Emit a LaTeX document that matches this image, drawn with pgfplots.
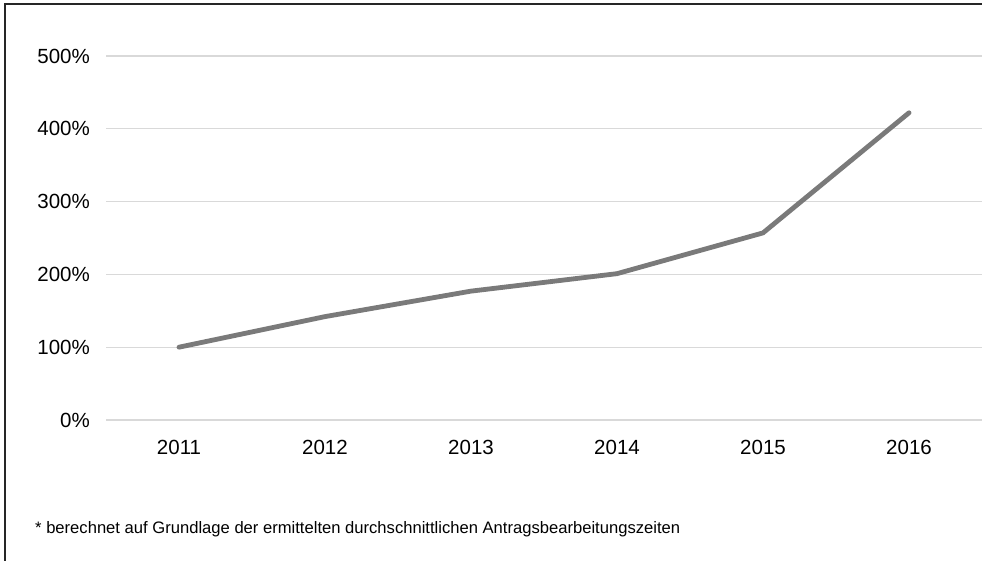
\documentclass[border=0pt]{standalone}
\usepackage{pgfplots}
\pgfplotsset{compat=1.18}
\usepackage{fontspec}
\setmainfont{Liberation Sans}
\definecolor{linegray}{HTML}{7A7A7A}
\definecolor{gridgray}{HTML}{D9D9D9}
\begin{document}
\begin{tikzpicture}[x=1bp,y=1bp]
\useasboundingbox (0,0) rectangle (982,561);
\draw[line width=1.2bp, black!85] (5,0) -- (5,557) -- (982,557);
\begin{axis}[
  at={(106bp,141bp)}, anchor=south west,
  scale only axis, width=876bp, height=364bp,
  xmin=-0.5, xmax=5.5, ymin=0, ymax=500,
  axis line style={draw=none},
  major tick length=0pt,
  xtick={0,1,2,3,4,5},
  xticklabels={2011,2012,2013,2014,2015,2016},
  ytick={0,100,200,300,400,500},
  yticklabel={\pgfmathprintnumber{\tick}\%},
  ymajorgrids, grid style={gridgray, line width=1.3bp},
  /pgf/number format/assume math mode=true,
  tick label style={font=\fontsize{20.5bp}{23bp}\selectfont, inner sep=0pt, text=black},
  yticklabel style={anchor=east, xshift=-16bp},
  xticklabel style={anchor=north, yshift=-20bp},
  clip=false,
]
\addplot[linegray, line width=4.8bp, line cap=round, line join=round] coordinates {
 (0,100) (1,142) (2,177) (3,201) (4,257) (5,422)
};
\end{axis}
\node[anchor=base west, inner sep=0pt, font=\fontsize{16.6bp}{19bp}\selectfont] at (35,27) {* berechnet auf Grundlage der ermittelten durchschnittlichen Antragsbearbeitungszeiten};
\end{tikzpicture}
\end{document}
